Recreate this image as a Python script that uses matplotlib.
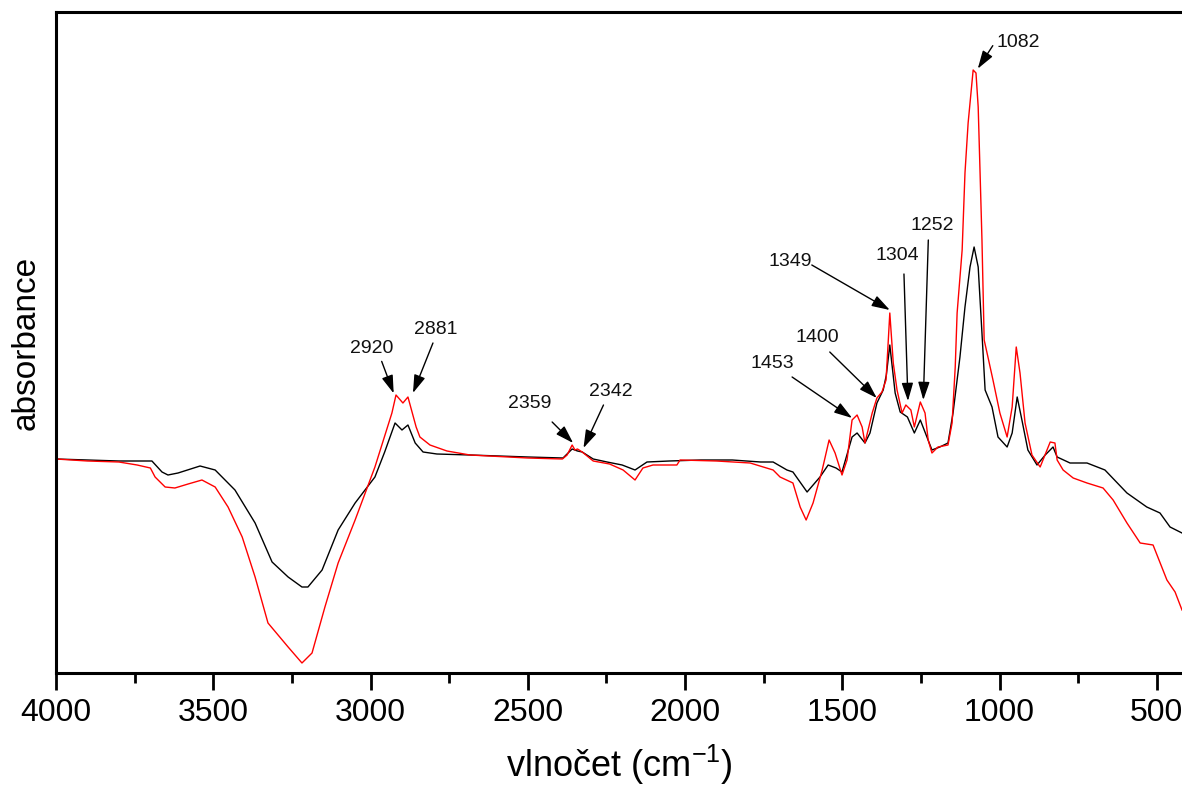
import numpy as np
import matplotlib
matplotlib.use("Agg")
import matplotlib.pyplot as plt
from matplotlib.ticker import MultipleLocator
from matplotlib.transforms import offset_copy

plt.rcParams["font.family"] = ["Liberation Sans", "DejaVu Sans"]
plt.rcParams["mathtext.fontset"] = "custom"
plt.rcParams["mathtext.rm"] = "Liberation Sans"
plt.rcParams["mathtext.default"] = "regular"

# FTIR spectrum of the reference sample (black)
wn_black = [4000, 3900, 3800, 3740, 3695, 3663, 3644, 3612, 3542, 3494, 3431, 3367,
            3313, 3262, 3218, 3199, 3154, 3103, 3049, 2986, 2955, 2922, 2900, 2881,
            2858, 2833, 2789, 2684, 2500, 2388, 2359, 2342, 2327, 2292, 2248, 2200,
            2159, 2121, 2050, 1950, 1850, 1760, 1720, 1676, 1657, 1612, 1571, 1545,
            1520, 1501, 1469, 1453, 1428, 1412, 1390, 1370, 1360, 1349, 1332, 1316,
            1293, 1271, 1252, 1231, 1215, 1190, 1164, 1148, 1126, 1110, 1094, 1081,
            1068, 1056, 1046, 1024, 1005, 976, 960, 944, 929, 910, 881, 855, 830,
            817, 776, 722, 665, 595, 532, 490, 458, 420]
abs_black = [0.214, 0.213, 0.212, 0.212, 0.212, 0.201, 0.198, 0.200, 0.207, 0.203, 0.183, 0.150,
             0.111, 0.096, 0.086, 0.086, 0.103, 0.143, 0.170, 0.196, 0.221, 0.250, 0.243, 0.248,
             0.230, 0.221, 0.219, 0.218, 0.216, 0.215, 0.224, 0.222, 0.221, 0.214, 0.211, 0.208,
             0.203, 0.211, 0.212, 0.213, 0.213, 0.211, 0.211, 0.203, 0.201, 0.181, 0.196, 0.208,
             0.205, 0.201, 0.236, 0.240, 0.230, 0.240, 0.270, 0.283, 0.298, 0.328, 0.280, 0.261,
             0.256, 0.240, 0.253, 0.236, 0.223, 0.226, 0.230, 0.260, 0.316, 0.366, 0.406, 0.426,
             0.406, 0.340, 0.283, 0.266, 0.236, 0.226, 0.240, 0.276, 0.253, 0.223, 0.208, 0.218, 0.226,
             0.216, 0.210, 0.210, 0.203, 0.180, 0.166, 0.160, 0.146, 0.140]

# FTIR spectrum of the modified sample (red)
wn_red = [4000, 3900, 3800, 3742, 3700, 3685, 3653, 3622, 3580, 3536, 3494, 3453,
          3408, 3367, 3326, 3262, 3218, 3186, 3145, 3103, 3049, 2986, 2932, 2919,
          2897, 2881, 2855, 2843, 2811, 2757, 2684, 2500, 2390, 2375, 2359, 2350,
          2342, 2327, 2292, 2240, 2197, 2159, 2134, 2102, 2026, 2016, 1900, 1793,
          1720, 1698, 1657, 1634, 1615, 1593, 1564, 1542, 1523, 1501, 1485, 1469,
          1453, 1437, 1428, 1405, 1390, 1374, 1361, 1355, 1349, 1338, 1326, 1310,
          1298, 1282, 1271, 1252, 1237, 1227, 1215, 1196, 1164, 1151, 1141, 1135,
          1119, 1110, 1100, 1084, 1075, 1068, 1062, 1056, 1049, 1037, 1021, 999,
          976, 960, 947, 935, 919, 897, 871, 839, 824, 817, 798, 766, 722, 671,
          639, 595, 553, 512, 468, 442, 420]
abs_red = [0.214, 0.212, 0.211, 0.208, 0.205, 0.196, 0.186, 0.185, 0.189, 0.193, 0.186, 0.166,
           0.136, 0.096, 0.050, 0.026, 0.010, 0.020, 0.066, 0.110, 0.153, 0.206, 0.260, 0.278,
           0.270, 0.276, 0.246, 0.236, 0.228, 0.222, 0.218, 0.215, 0.214, 0.218, 0.228, 0.223,
           0.224, 0.221, 0.212, 0.209, 0.203, 0.193, 0.205, 0.208, 0.208, 0.213, 0.212, 0.210,
           0.203, 0.196, 0.190, 0.166, 0.153, 0.170, 0.203, 0.233, 0.220, 0.198, 0.213, 0.253,
           0.258, 0.246, 0.230, 0.260, 0.275, 0.281, 0.293, 0.326, 0.360, 0.310, 0.283, 0.260,
           0.268, 0.263, 0.246, 0.271, 0.260, 0.233, 0.220, 0.226, 0.228, 0.250, 0.306, 0.360,
           0.423, 0.500, 0.550, 0.603, 0.600, 0.566, 0.500, 0.433, 0.333, 0.316, 0.293, 0.260,
           0.236, 0.266, 0.326, 0.300, 0.250, 0.218, 0.206, 0.231, 0.230, 0.213, 0.203, 0.195, 0.190, 0.185,
           0.173, 0.150, 0.130, 0.128, 0.093, 0.081, 0.063]

# Marked bands (cm^-1)
peak_labels = [2920, 2881, 2359, 2342, 1453, 1400, 1349, 1304, 1252, 1082]
# pixel offsets: arrow tip, arrow tail and label centre, relative to the band on the red curve
peak_offsets = {
    2920: ((-2, 3), (-14, 35), (-24, 48)),
    2881: ((5, 4), (25, 54), (28, 67)),
    2359: ((1, 2), (-20, 23), (-42, 42)),
    2342: ((6, 1), (26, 44), (33, 57)),
    1453: ((-5, -3), (-65, 38), (-85, 52)),
    1400: ((3, 10), (-44, 56), (-56, 70)),
    1349: ((0, 3), (-78, 48), (-100, 52)),
    1304: ((4, 8), (0, 135), (-7, 153)),
    1252: ((3, 2), (8, 162), (12, 177)),
    1082: ((4, 2), (19, 25), (44, 28)),
}

fig = plt.figure(figsize=(11.82, 7.90), dpi=100)
ax = fig.add_axes([56 / 1182, 1 - 673 / 790, 1 - 56 / 1182, (673 - 12) / 790])

ax.plot(wn_black, abs_black, color="black", lw=1.0)
ax.plot(wn_red, abs_red, color="#ff0000", lw=1.0)

ax.set_xlim(4000, 420)
ax.set_ylim(0.0, 0.661)

red_w = np.array(wn_red[::-1], dtype=float)
red_a = np.array(abs_red[::-1], dtype=float)
for lab in peak_labels:
    y = float(np.interp(lab, red_w, red_a))
    (tdx, tdy), (ldx, ldy), (xdx, xdy) = peak_offsets[lab]
    tip_tr = offset_copy(ax.transData, fig=fig, x=tdx, y=tdy, units="dots")
    ax.annotate("", xy=(lab, y), xycoords=tip_tr,
                xytext=(ldx - tdx, ldy - tdy), textcoords="offset pixels",
                arrowprops=dict(arrowstyle="-|>,head_length=1.1,head_width=0.35",
                                color="black", lw=1.0, shrinkA=0, shrinkB=0,
                                mutation_scale=10))
    ax.annotate(str(lab), xy=(lab, y), xycoords="data",
                xytext=(xdx, xdy), textcoords="offset pixels",
                ha="center", va="center", fontsize=14, color="#111111")

ax.xaxis.set_major_locator(MultipleLocator(500))
ax.xaxis.set_minor_locator(MultipleLocator(250))
ax.set_yticks([])
ax.tick_params(axis="x", which="major", direction="out", length=12, width=2.0,
               labelsize=23, pad=6)
ax.tick_params(axis="x", which="minor", direction="out", length=7, width=2.0)

for side in ("left", "top", "bottom"):
    ax.spines[side].set_linewidth(2.2)
ax.spines["right"].set_visible(False)

ax.set_xlabel("vlnočet (cm$^{-1}$)", fontsize=26, labelpad=11)
ax.set_ylabel("absorbance", fontsize=24, labelpad=10)

fig.savefig("out.png", dpi=100)
